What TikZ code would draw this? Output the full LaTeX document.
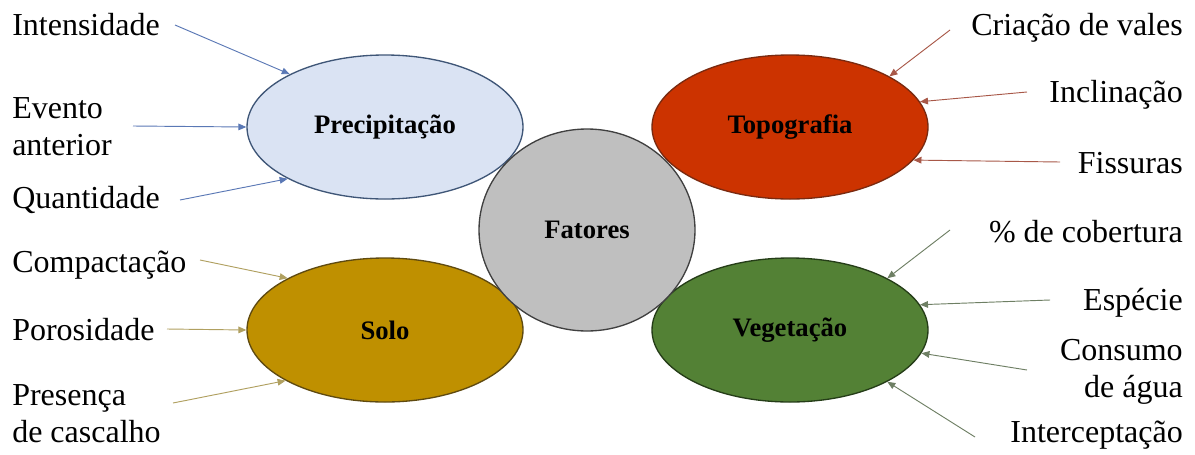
\documentclass[tikz,border=0pt]{standalone}
\usepackage{fontspec}
\setmainfont{Liberation Serif}
\newfontfamily\lblfont{Liberation Serif}
\usetikzlibrary{shapes.geometric,arrows.meta}
\definecolor{precfill}{HTML}{DAE3F3}
\definecolor{precline}{HTML}{3F5677}
\definecolor{precarrow}{HTML}{5A78B5}
\definecolor{topofill}{HTML}{CC3300}
\definecolor{topoline}{HTML}{7A2A10}
\definecolor{topoarrow}{HTML}{A85848}
\definecolor{solofill}{HTML}{BF9000}
\definecolor{sololine}{HTML}{5F4A10}
\definecolor{soloarrow}{HTML}{B0A060}
\definecolor{vegfill}{HTML}{538135}
\definecolor{vegline}{HTML}{253D18}
\definecolor{vegarrow}{HTML}{6E7F64}
\definecolor{fatfill}{HTML}{BFBFBF}
\definecolor{fatline}{HTML}{404040}
\tikzset{
  factor/.style={ellipse, inner sep=0pt, line width=1pt, minimum width=207pt, minimum height=108pt,
    font=\lblfont\fontsize{20pt}{24pt}\selectfont\bfseries, text=black},
  lbl/.style={inner sep=0pt, font=\lblfont\fontsize{24pt}{27.75pt}\selectfont},
  arr/.style={line width=0.7pt, -{Triangle[length=6pt,width=5pt]}}
}
\begin{document}
\begin{tikzpicture}[x=0.75pt,y=-0.75pt]
\useasboundingbox (0,0) rectangle (1195,454);
% factor ellipses
\node[factor, fill=precfill, draw=precline] (prec) at (385,127) {Precipitação};
\node[factor, fill=topofill, draw=topoline] (topo) at (790,127) {Topografia};
\node[factor, fill=solofill, draw=sololine] (solo) at (385,330) {Solo};
\node[factor, fill=vegfill, draw=vegline] (veg) at (790,330) {Vegetação};
\node[factor, fill=fatfill, draw=fatline, minimum width=162pt, minimum height=151.5pt] (fat) at (587,230) {Fatores};
% left labels
\node[lbl, anchor=base west] (l1) at (12,35) {Intensidade};
\node[lbl, anchor=base west] (l2) at (12,118) {\begin{tabular}[t]{@{}l@{}}Evento\\anterior\end{tabular}};
\node[lbl, anchor=base west] (l3) at (12,208) {Quantidade};
\node[lbl, anchor=base west] (l4) at (12,272) {Compactação};
\node[lbl, anchor=base west] (l5) at (12,340) {Porosidade};
\node[lbl, anchor=base west] (l6) at (12,405) {\begin{tabular}[t]{@{}l@{}}Presença\\de cascalho\end{tabular}};
% right labels
\node[lbl, anchor=base east] (r1) at (1183,35) {Criação de vales};
\node[lbl, anchor=base east] (r2) at (1183,102) {Inclinação};
\node[lbl, anchor=base east] (r3) at (1183,173) {Fissuras};
\node[lbl, anchor=base east] (r4) at (1183,242) {\% de cobertura};
\node[lbl, anchor=base east] (r5) at (1183,310) {Espécie};
\node[lbl, anchor=base east] (r6) at (1183,360) {\begin{tabular}[t]{@{}r@{}}Consumo\\de água\end{tabular}};
\node[lbl, anchor=base east] (r7) at (1183,442) {Interceptação};
% arrow start points
\coordinate (s1) at (175,25);
\coordinate (s2) at (133,126);
\coordinate (s3) at (180,200);
\coordinate (s4) at (200,260);
\coordinate (s5) at (167,329);
\coordinate (s6) at (173,403);
\coordinate (t1) at (950,30);
\coordinate (t2) at (1027,92);
\coordinate (t3) at (1060,162);
\coordinate (t4) at (950,230);
\coordinate (t5) at (1050,300);
\coordinate (t6) at (1027,370);
\coordinate (t7) at (975,437);
% arrows
\draw[arr, precarrow] (s1) -- (prec.151);
\draw[arr, precarrow] (s2) -- (prec.180);
\draw[arr, precarrow] (s3) -- (prec.208);
\draw[arr, soloarrow] (s4) -- (solo.152);
\draw[arr, soloarrow] (s5) -- (solo.180);
\draw[arr, soloarrow] (s6) -- (solo.207);
\draw[arr, topoarrow] (t1) -- (topo.27);
\draw[arr, topoarrow] (t2) -- (topo.11);
\draw[arr, topoarrow] (t3) -- (topo.345);
\draw[arr, vegarrow] (t4) -- (veg.28);
\draw[arr, vegarrow] (t5) -- (veg.11);
\draw[arr, vegarrow] (t6) -- (veg.350);
\draw[arr, vegarrow] (t7) -- (veg.332);
\end{tikzpicture}
\end{document}
